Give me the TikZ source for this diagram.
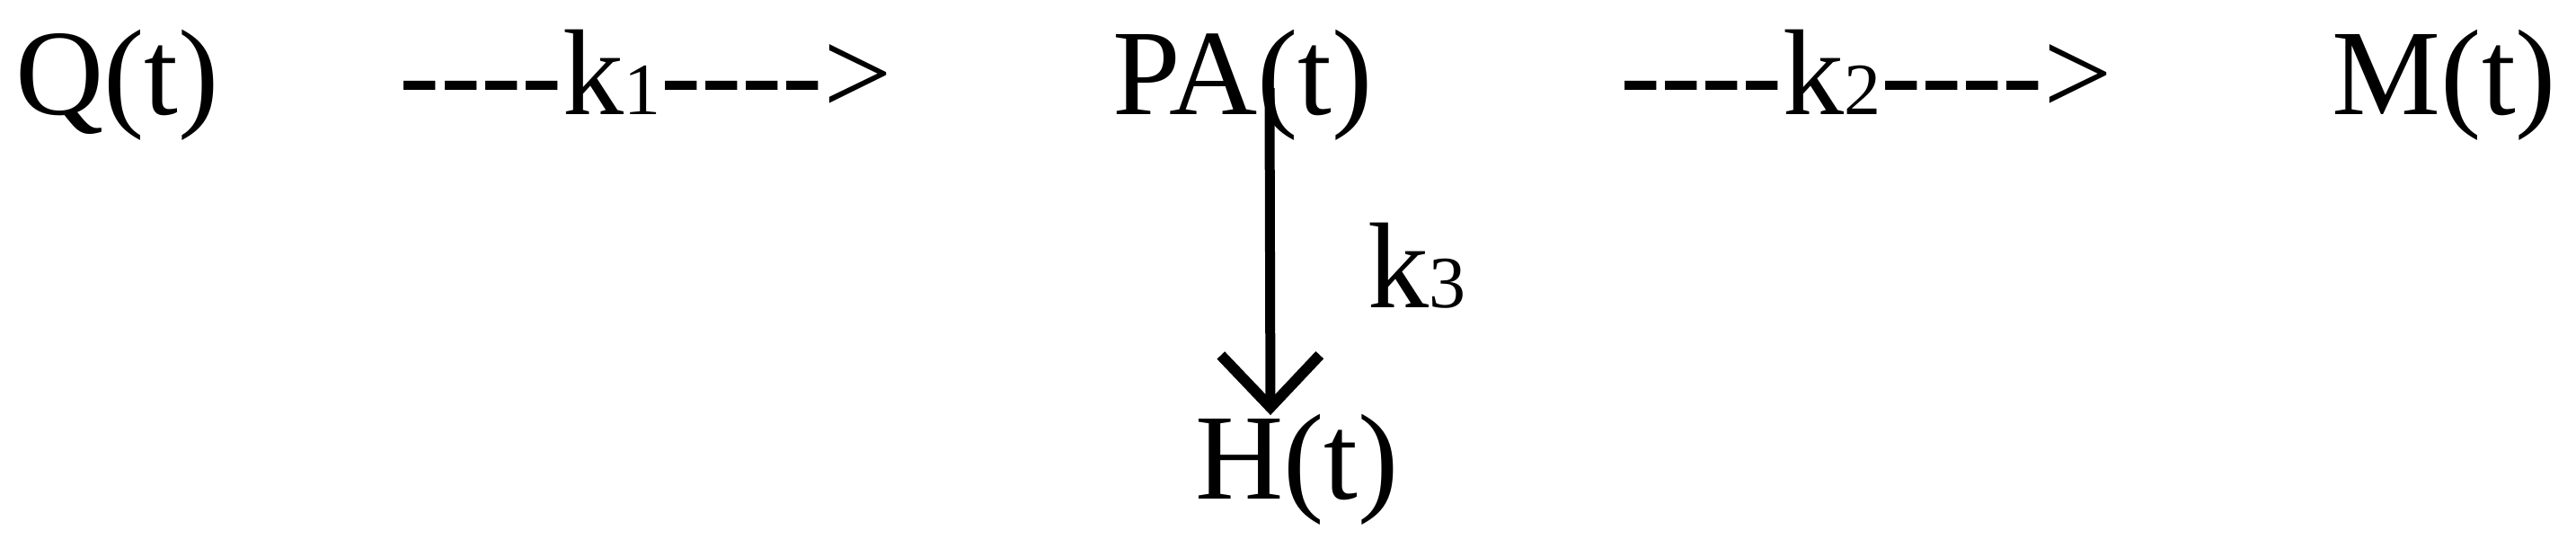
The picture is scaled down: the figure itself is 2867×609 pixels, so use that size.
\documentclass[tikz,border=0pt]{standalone}
\usepackage{fontspec}
\setmainfont{Liberation Serif}
\usetikzlibrary{arrows.meta}
\newcommand{\sm}[1]{{\fontsize{8.2pt}{9pt}\selectfont #1}}
\newcommand{\hy}{-{}-{}-{}-{}}
\begin{document}
\begin{tikzpicture}[x=0.1pt,y=-0.1pt,
  lbl/.style={inner sep=0pt,outer sep=0pt,anchor=base west,font=\fontsize{13.6pt}{16pt}\selectfont},
  flow/.style={line width=1.1pt,-{Straight Barb[length=5.8pt,width=11pt,line width=1.2pt]}}]
\useasboundingbox[fill=white] (0,0) rectangle (2867,609);
\node[lbl] (q) at (17,127) {Q(t)};
\node[lbl] (r1) at (445,127) {\hy k\sm{1}\hy>};
\node[lbl] (pa) at (1238,127) {PA(t)};
\node[lbl] (r2) at (1803,127) {\hy k\sm{2}\hy>};
\node[lbl] (m) at (2596,127) {M(t)};
\node[lbl] (h) at (1330,555) {H(t)};
\node[lbl] (k3) at (1522,342) {k\sm{3}};
\coordinate (pafoot) at (1413,98);
\coordinate (htop) at (1414,462);
\draw[flow] (pafoot) -- (htop);
\end{tikzpicture}
\end{document}
